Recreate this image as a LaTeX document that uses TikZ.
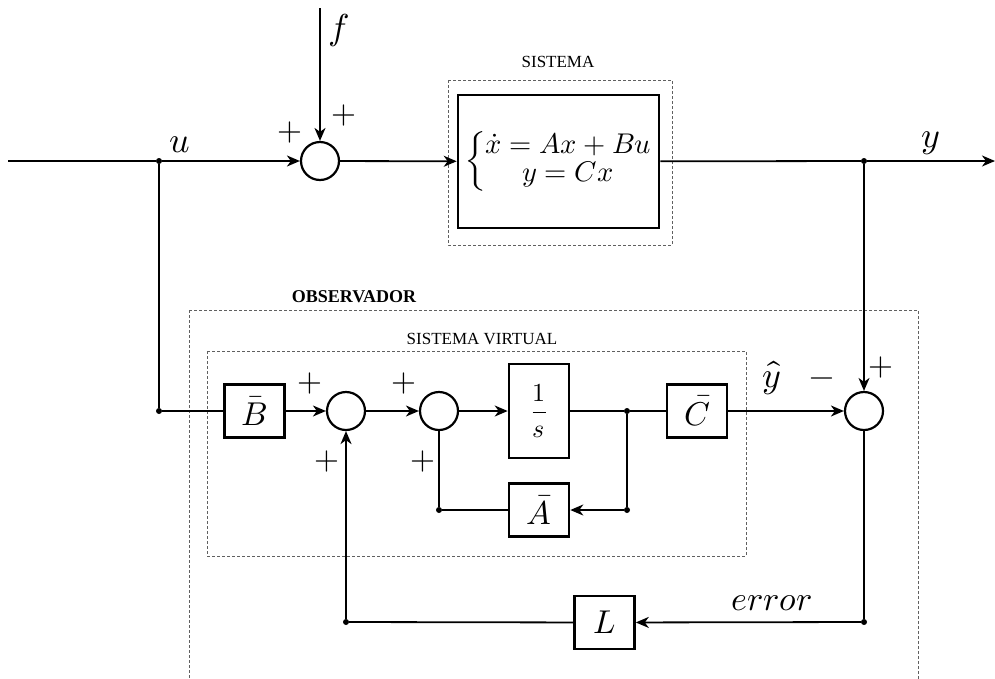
\documentclass[tikz,border=0pt]{standalone}
\usepackage{amsmath}
\usepackage{fontspec}
\usepackage{unicode-math}
\setmainfont{Liberation Serif}
\setmathfont{Latin Modern Math}
\usetikzlibrary{arrows.meta}
\begin{document}
\begin{tikzpicture}[x=1pt,y=-1pt,
  conn/.style={line width=1.8pt},
  arr/.style={line width=1.8pt,-{Stealth[length=13pt,width=11pt,inset=4pt]}},
  sumnode/.style={circle,draw,line width=2.2pt,minimum size=38pt,inner sep=0pt},
  blk/.style={draw,line width=2.6pt,minimum width=60pt,minimum height=53pt,inner sep=0pt,font=\fontsize{33}{36}\selectfont},
  dot/.style={circle,fill,minimum size=6pt,inner sep=0pt},
  dashbox/.style={draw=gray!75!black,line width=0.9pt,dash pattern=on 3pt off 2pt},
  mlab/.style={font=\fontsize{36}{40}\selectfont,inner sep=0pt},
  sgn/.style={font=\fontsize{32}{34}\selectfont,inner sep=0pt},
  tlab/.style={inner sep=0pt}
]
\useasboundingbox (0,0) rectangle (995,678);
% dashed frames
\draw[dashbox] (448,80) rectangle (672,245);
\draw[dashbox] (189,310) -- (189,690) (189,310) -- (918,310) -- (918,690);
\draw[dashbox] (207,351) rectangle (746,556);
% nodes
\coordinate (in) at (8,161);
\node[dot] (ju) at (159,161) {};
\node[sumnode] (s1) at (320,161) {};
\coordinate (ftop) at (320,8);
\node[draw,line width=2.6pt,minimum width=201pt,minimum height=133pt,inner sep=0pt] (sys) at (558.5,161.5)
  {\fontsize{28.5}{31}\selectfont$\left\{\renewcommand\arraystretch{0.9}\begin{array}{@{}c@{}}\dot{x}=Ax+Bu\\ y=Cx\end{array}\right.$\hspace{7pt}};
\node[dot] (jy) at (864,161) {};
\coordinate (out) at (995,161);
\node[sumnode] (s3) at (864,411) {};
\node[dot] (jb) at (159,411) {};
\node[blk] (B) at (254.5,411) {$\bar{B}$};
\node[sumnode] (s2) at (346,411) {};
\node[sumnode] (s4) at (439,411) {};
\node[blk,minimum height=94pt] (I) at (539,411) {\fontsize{26}{30}\selectfont$\dfrac{1}{s}$};
\node[dot] (jc) at (627,411) {};
\node[blk] (C) at (697,411) {$\bar{C}$};
\node[blk] (A) at (539,510) {$\bar{A}$};
\node[dot] (ja) at (627,510) {};
\node[dot] (ja2) at (439,510) {};
\node[dot] (je) at (864,622) {};
\node[blk] (L) at (604.5,622.5) {$L$};
\node[dot] (jl) at (346,622) {};
% connectors
\draw[conn] (in) -- (ju);
\draw[arr] (ju) -- (s1);
\draw[arr] (ftop) -- (s1);
\draw[arr] (s1) -- (sys);
\draw[conn] (sys) -- (jy);
\draw[arr] (jy) -- (out);
\draw[arr] (jy) -- (s3);
\draw[conn] (ju) -- (jb) -- (B);
\draw[arr] (B) -- (s2);
\draw[arr] (s2) -- (s4);
\draw[arr] (s4) -- (I);
\draw[conn] (I) -- (jc) -- (C);
\draw[arr] (C) -- (s3);
\draw[conn] (jc) -- (ja);
\draw[arr] (ja) -- (A);
\draw[conn] (A) -- (ja2) -- (s4);
\draw[conn] (s3) -- (je);
\draw[arr] (je) -- (L);
\draw[conn] (L) -- (jl);
\draw[arr] (jl) -- (s2);
% labels
\node[mlab] (lu) at (180,145) {$u$};
\node[mlab] (lf) at (339,30) {$f$};
\node[sgn] (p1) at (290,132) {$+$};
\node[sgn] (p2) at (344,115) {$+$};
\node[mlab] (ly) at (931,143) {$y$};
\node[tlab,font=\fontsize{17}{19}\selectfont] (tsis) at (558,62) {SISTEMA};
\node[tlab,font=\fontsize{18}{20}\selectfont\bfseries] (tobs) at (354,297) {OBSERVADOR};
\node[tlab,font=\fontsize{17}{19}\selectfont] (tvir) at (482,339) {SISTEMA VIRTUAL};
\node[sgn] (p3) at (310,383) {$+$};
\node[sgn] (p4) at (327,461) {$+$};
\node[sgn] (p5) at (404,383) {$+$};
\node[sgn] (p6) at (423,461) {$+$};
\node[mlab] (lyh) at (772,378) {$\hat{y}$};
\node[sgn] (m1) at (822,382) {$-$};
\node[sgn] (p7) at (881,367) {$+$};
\node[mlab,font=\fontsize{34}{38}\selectfont] (lerr) at (772,603) {$error$};
\end{tikzpicture}
\end{document}
